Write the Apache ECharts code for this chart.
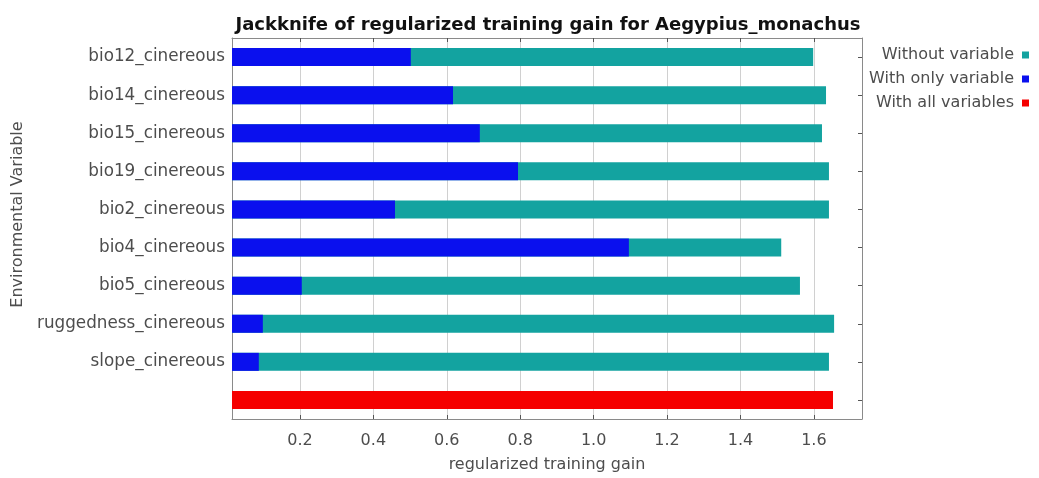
<!DOCTYPE html>
<html>
<head>
<meta charset="utf-8">
<script src="https://cdn.jsdelivr.net/npm/echarts@6/dist/echarts.min.js"></script>
<style>
  html, body { margin: 0; padding: 0; background: #fff; }
  #chart { width: 1039px; height: 478px; }
</style>
</head>
<body>
<div id="chart"></div>
<script>
// Categories, top to bottom (last row = "With all variables")
const categories = [
  'bio12_cinereous', 'bio14_cinereous', 'bio15_cinereous', 'bio19_cinereous',
  'bio2_cinereous', 'bio4_cinereous', 'bio5_cinereous',
  'ruggedness_cinereous', 'slope_cinereous', ''
];
const withoutVariable = [1.598, 1.633, 1.622, 1.641, 1.641, 1.511, 1.562, 1.655, 1.641, null];
const withOnlyVariable = [0.502, 0.617, 0.690, 0.794, 0.459, 1.096, 0.205, 0.099, 0.088, null];
const withAllVariables = [null, null, null, null, null, null, null, null, null, 1.652];
const xTicks = [0.2, 0.4, 0.6, 0.8, 1.0, 1.2, 1.4, 1.6];
const xMin = 0.015, xMax = 1.731;

const chart = echarts.init(document.getElementById('chart'), null, { renderer: 'canvas' });
const axisGray = '#8a8a8a';
const textGray = '#4d4d4d';
const font = 'DejaVu Sans';

chart.setOption({
  backgroundColor: '#fff',
  animation: false,
  title: {
    text: 'Jackknife of regularized training gain for Aegypius_monachus',
    left: 543, top: 11, textAlign: 'center',
    textStyle: { fontFamily: font, fontWeight: 'bold', fontSize: 18, color: '#111' }
  },
  legend: {
    orient: 'vertical', right: 5, top: 42, align: 'right',
    icon: 'rect', itemWidth: 7, itemHeight: 7, itemGap: 8,
    textStyle: { fontFamily: font, fontSize: 16, color: textGray, padding: [0, 3, 0, 0] },
    data: ['Without variable', 'With only variable', 'With all variables']
  },
  grid: { left: 232, right: 177, top: 38, bottom: 58, containLabel: false },
  xAxis: [
    {
      type: 'value', min: xMin, max: xMax, position: 'bottom',
      name: 'regularized training gain', nameLocation: 'middle', nameGap: 38,
      nameTextStyle: { fontFamily: font, fontSize: 16, color: textGray },
      axisLine: { show: true, lineStyle: { color: axisGray, width: 1 } },
      axisTick: { show: true, inside: true, length: 4, customValues: xTicks, lineStyle: { color: '#555' } },
      axisLabel: { show: true, customValues: xTicks, margin: 14, fontFamily: font, fontSize: 16, color: textGray,
        formatter: v => v.toFixed(1) },
      splitLine: { show: true, lineStyle: { color: '#d0d0d0', width: 1 } }
    },
    {
      type: 'value', min: xMin, max: xMax, position: 'top',
      axisLine: { show: true, lineStyle: { color: axisGray, width: 1 } },
      axisTick: { show: true, inside: true, length: 4, customValues: xTicks, lineStyle: { color: '#555' } },
      axisLabel: { show: false },
      splitLine: { show: false }
    }
  ],
  yAxis: [
    {
      type: 'category', data: categories, inverse: true, position: 'left',
      name: 'Environmental Variable', nameLocation: 'middle', nameGap: 202, nameRotate: 90,
      nameTextStyle: { fontFamily: font, fontSize: 16, color: textGray, padding: [0, 0, 0, 28] },
      axisLine: { show: true, lineStyle: { color: axisGray, width: 1 } },
      axisTick: { show: false },
      axisLabel: { margin: 7, fontFamily: font, fontSize: 16.8, color: textGray },
      splitLine: { show: false }
    },
    {
      type: 'category', data: categories, inverse: true, position: 'right',
      axisLine: { show: true, lineStyle: { color: axisGray, width: 1 } },
      axisTick: { show: true, inside: true, length: 4, alignWithLabel: true, lineStyle: { color: '#555' } },
      axisLabel: { show: false },
      splitLine: { show: false }
    }
  ],
  series: [
    {
      name: 'Without variable', type: 'bar', xAxisIndex: 0, yAxisIndex: 0,
      data: withoutVariable, barWidth: 18, barGap: '-100%',
      itemStyle: { color: '#13a3a0' }
    },
    {
      name: 'With only variable', type: 'bar', xAxisIndex: 0, yAxisIndex: 0,
      data: withOnlyVariable, barWidth: 18, barGap: '-100%',
      itemStyle: { color: '#0a10ee' }
    },
    {
      name: 'With all variables', type: 'bar', xAxisIndex: 0, yAxisIndex: 0,
      data: withAllVariables, barWidth: 18, barGap: '-100%',
      itemStyle: { color: '#f50000' }
    }
  ]
});
</script>
</body>
</html>
